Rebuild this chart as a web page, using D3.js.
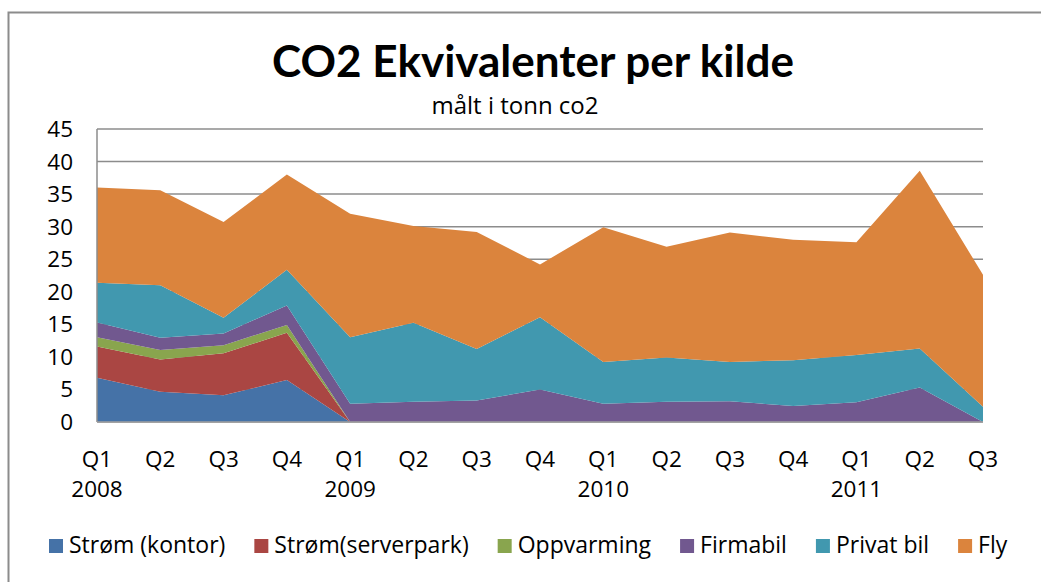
<!DOCTYPE html>
<html>
<head>
<meta charset="utf-8">
<script src="https://cdn.jsdelivr.net/npm/d3@7/dist/d3.min.js"></script>
<style>
  html, body { margin: 0; padding: 0; background: #fff; }
  svg { display: block; }
  text { font-family: "Open Sans", Lato, sans-serif; fill: #000; }
  text.title { font-family: Lato, "Open Sans", sans-serif; }
</style>
</head>
<body>
<svg id="chart" width="1041" height="582"></svg>
<script>
// ---- data ----
const quarters = ["Q1","Q2","Q3","Q4","Q1","Q2","Q3","Q4","Q1","Q2","Q3","Q4","Q1","Q2","Q3"];
const years    = ["2008","","","","2009","","","","2010","","","","2011","",""];
const seriesNames = ["Strøm (kontor)","Strøm(serverpark)","Oppvarming","Firmabil","Privat bil","Fly"];
const stromKontor     = [6.8, 4.65, 4.1, 6.45, 0, 0, 0, 0, 0, 0, 0, 0, 0, 0, 0];
const stromServerpark = [4.8, 4.95, 6.45, 7.25, 0, 0, 0, 0, 0, 0, 0, 0, 0, 0, 0];
const oppvarming      = [1.4, 1.45, 1.25, 1.2, 0, 0, 0, 0, 0, 0, 0, 0, 0, 0, 0];
const firmabil        = [2.3, 1.9, 1.8, 3.0, 2.8, 3.1, 3.3, 5.0, 2.8, 3.1, 3.2, 2.45, 3.05, 5.3, 0];
const privatBil       = [6.1, 8.05, 2.4, 5.5, 10.2, 12.15, 7.9, 11.1, 6.4, 6.8, 6.0, 7.05, 7.25, 6.0, 2.35];
const fly             = [14.6, 14.6, 14.7, 14.6, 19.0, 14.85, 18.0, 8.1, 20.7, 17.0, 19.9, 18.5, 17.3, 27.3, 20.25];
const yTicks = [0, 5, 10, 15, 20, 25, 30, 35, 40, 45];
const colors = ["#4572A7", "#AA4643", "#89A54E", "#71588F", "#4198AF", "#DB843D"];

const allSeries = [stromKontor, stromServerpark, oppvarming, firmabil, privatBil, fly];
const rows = quarters.map((q, i) => {
  const r = { i };
  seriesNames.forEach((n, k) => r[n] = allSeries[k][i]);
  return r;
});

// ---- layout ----
const svg = d3.select("#chart");
const pLeft = 97, pRight = 983, pTop = 129, pBottom = 422;

svg.append("rect").attr("x", 8.5).attr("y", 12.5).attr("width", 1200).attr("height", 800)
  .attr("fill", "#fff").attr("stroke", "#8c8c8c").attr("stroke-width", 2);

const x = d3.scalePoint().domain(d3.range(quarters.length)).range([pLeft, pRight]);
const y = d3.scaleLinear().domain([0, 45]).range([pBottom, pTop]);

// gridlines
svg.append("g").selectAll("line").data(yTicks).join("line")
  .attr("x1", pLeft).attr("x2", pRight)
  .attr("y1", d => y(d)).attr("y2", d => y(d))
  .attr("stroke", "#8c8c8c").attr("stroke-width", 1.5);

// stacked areas
const stack = d3.stack().keys(seriesNames);
const layers = stack(rows);
const area = d3.area()
  .x(d => x(d.data.i))
  .y0(d => y(d[0]))
  .y1(d => y(d[1]));
svg.append("g").selectAll("path").data(layers).join("path")
  .attr("d", area)
  .attr("fill", (d, k) => colors[k]);

// axis lines
svg.append("line").attr("x1", pLeft).attr("x2", pLeft).attr("y1", y(45)).attr("y2", y(0))
  .attr("stroke", "#8c8c8c").attr("stroke-width", 1.5);
svg.append("line").attr("x1", pLeft).attr("x2", pRight).attr("y1", y(0)).attr("y2", y(0))
  .attr("stroke", "#a0a0a0").attr("stroke-width", 1.5);

// y tick labels
svg.append("g").selectAll("text").data(yTicks).join("text")
  .attr("x", 73).attr("y", d => y(d) + 8)
  .attr("text-anchor", "end").attr("font-size", 22.5)
  .text(d => d);

// x labels
svg.append("g").selectAll("text").data(quarters).join("text")
  .attr("x", (d, i) => x(i)).attr("y", 467)
  .attr("text-anchor", "middle").attr("font-size", 22.5)
  .text(d => d);
svg.append("g").selectAll("text").data(years).join("text")
  .attr("x", (d, i) => x(i)).attr("y", 497)
  .attr("text-anchor", "middle").attr("font-size", 22.5)
  .text(d => d);

// title
svg.append("text").attr("class", "title").attr("x", 533).attr("y", 77).attr("text-anchor", "middle")
  .attr("font-size", 44).attr("font-weight", "bold")
  .text("CO2 Ekvivalenter per kilde");
svg.append("text").attr("x", 515).attr("y", 114).attr("text-anchor", "middle")
  .attr("font-size", 24)
  .text("målt i tonn co2");

// legend
const lg = svg.append("g");
let cx = 49;
seriesNames.forEach((n, k) => {
  lg.append("rect").attr("x", cx).attr("y", 539).attr("width", 14).attr("height", 14)
    .attr("fill", colors[k]);
  const t = lg.append("text").attr("x", cx + 20).attr("y", 553).attr("font-size", 23).text(n);
  cx += 20 + t.node().getComputedTextLength() + 29;
});
</script>
</body>
</html>
